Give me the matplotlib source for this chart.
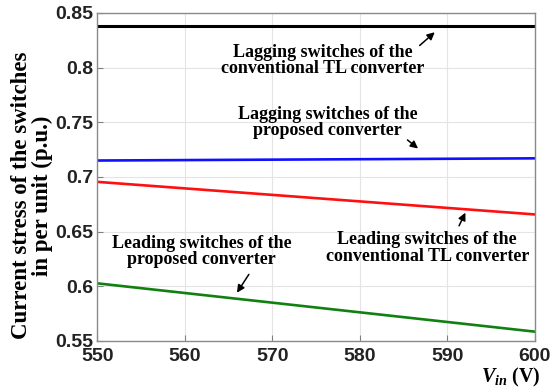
import matplotlib
matplotlib.use("Agg")
import matplotlib.pyplot as plt

# input voltage range and current stress per switch group (p.u.)
vin = [550, 600]
lag_conventional = [0.838, 0.838]
lag_proposed = [0.715, 0.717]
lead_conventional = [0.6955, 0.6657]
lead_proposed = [0.6027, 0.5585]

x_ticks = [550, 560, 570, 580, 590, 600]
y_ticks = [0.55, 0.6, 0.65, 0.7, 0.75, 0.8, 0.85]
y_tick_labels = ["0.55", "0.6", "0.65", "0.7", "0.75", "0.8", "0.85"]

plt.rcParams["mathtext.fontset"] = "custom"
plt.rcParams["mathtext.it"] = "Liberation Serif:italic:bold"
plt.rcParams["mathtext.rm"] = "Liberation Serif:bold"

fig = plt.figure(figsize=(5.52, 3.91), dpi=100)
ax = fig.add_axes([0.176, 0.128, 0.793, 0.839])

ax.plot(vin, lag_conventional, color="black", lw=2.2)
ax.plot(vin, lag_proposed, color="#1010ff", lw=1.9)
ax.plot(vin, lead_conventional, color="#ff1010", lw=1.9)
ax.plot(vin, lead_proposed, color="#108010", lw=1.9)

ax.set_xlim(550, 600)
ax.set_ylim(0.55, 0.85)
ax.set_xticks(x_ticks)
ax.set_yticks(y_ticks)
ax.set_yticklabels(y_tick_labels)
ax.grid(True, color="#e4e4e4", lw=0.8)
ax.set_axisbelow(True)
ax.tick_params(direction="in", length=4, color="#808080", labelsize=14)
ax.tick_params(axis="x", pad=5)
ax.tick_params(axis="y", pad=3)
for lbl in ax.get_xticklabels() + ax.get_yticklabels():
    lbl.set_fontfamily("Liberation Sans")
    lbl.set_fontweight("bold")
    lbl.set_color("#222222")
for sp in ax.spines.values():
    sp.set_color("#8a8a8a")
    sp.set_linewidth(1.0)

txt = dict(fontfamily="Liberation Serif", fontweight="bold", fontsize=13,
           ha="center", va="center", linespacing=0.95)
arrow = dict(arrowstyle="-|>", color="black", lw=1.1, mutation_scale=11)

ax.text(575.8, 0.8066, "Lagging switches of the\nconventional TL converter", **txt)
ax.annotate("", xy=(588.8, 0.834), xytext=(586.6, 0.8185), arrowprops=arrow)

ax.text(576.3, 0.750, "Lagging switches of the\nproposed converter", **txt)
ax.annotate("", xy=(586.9, 0.7244), xytext=(585.2, 0.7354), arrowprops=arrow)

ax.text(587.7, 0.635, "Leading switches of the\nconventional TL converter", **txt)
ax.annotate("", xy=(592.2, 0.6696), xytext=(591.2, 0.653), arrowprops=arrow)

ax.text(561.9, 0.632, "Leading switches of the\nproposed converter", **txt)
ax.annotate("", xy=(565.8, 0.592), xytext=(567.5, 0.613), arrowprops=arrow)

fig.text(0.058, 0.50, "Current stress of the switches\nin per unit (p.u.)",
         rotation=90, ha="center", va="center", fontfamily="Liberation Serif",
         fontweight="bold", fontsize=16.5, linespacing=0.95)
fig.text(0.925, 0.035, r"$V_{in}$ (V)", ha="center", va="center",
         fontfamily="Liberation Serif", fontweight="bold", fontsize=14.5)

fig.savefig("out.png", dpi=100)
